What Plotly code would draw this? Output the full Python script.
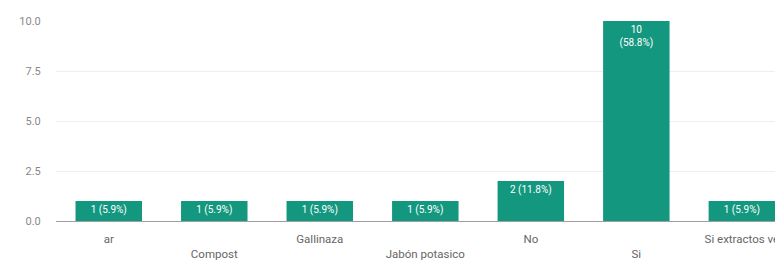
import plotly.graph_objects as go

categories = ["ar", "Compost", "Gallinaza", "Jabón potasico", "No", "Si", "Si extractos ve"]
values = [1, 1, 1, 1, 2, 10, 1]
total = sum(values)
bar_text = []
for v in values:
    pct = f"({v / total * 100:.1f}%)"
    bar_text.append(f"{v}<br>{pct}" if v >= 5 else f"{v} {pct}")
tick_labels = [c if i % 2 == 0 else "<br>" + c for i, c in enumerate(categories)]
y_ticks = [0, 2.5, 5, 7.5, 10]

fig = go.Figure(go.Bar(
    x=list(range(len(categories))),
    y=values,
    text=bar_text,
    textposition="inside",
    insidetextanchor="end",
    textangle=0,
    textfont=dict(color="white", size=10, family="Roboto"),
    marker=dict(color="#13977e", line=dict(width=0)),
    hoverinfo="skip",
))

# page body has an 8px margin, so the figure is sized to fit the rest of the window
fig.update_layout(
    width=775, height=256,
    margin=dict(l=48, r=0, t=13, b=43),
    plot_bgcolor="white", paper_bgcolor="white",
    bargap=0.37,
    showlegend=False,
    font=dict(family="Roboto", size=11, color="#757575"),
    uniformtext=dict(minsize=10, mode="show"),
)
fig.update_xaxes(
    tickmode="array",
    tickvals=list(range(len(categories))),
    ticktext=tick_labels,
    range=[-0.5, 6.39],
    showgrid=False,
    showline=True, linecolor="#9e9e9e", linewidth=1,
    ticks="outside", ticklen=7, tickcolor="rgba(0,0,0,0)", tickangle=0,
    tickfont=dict(size=11.5, color="#666666"),
)
fig.update_yaxes(
    range=[0, 10],
    tickvals=y_ticks,
    ticktext=[f"{t:.1f}" for t in y_ticks],
    showgrid=True, gridcolor="#eeeeee", gridwidth=1,
    zeroline=False,
    ticks="outside", ticklen=12, tickcolor="rgba(0,0,0,0)",
    tickfont=dict(size=11, color="#888888"),
)

fig.write_html("out.html")
